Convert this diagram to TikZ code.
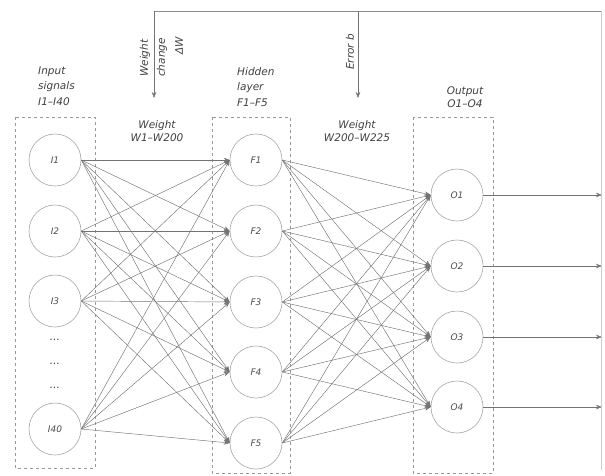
\documentclass[tikz,border=0pt]{standalone}
\usepackage{fontspec}
\setmainfont{DejaVu Sans}
\usetikzlibrary{arrows.meta}
\begin{document}
\begin{tikzpicture}[x=1pt,y=-1pt,
  neuron/.style={circle,draw=black!35,line width=0.6pt,minimum size=52pt,inner sep=0pt,font=\itshape\fontsize{9}{10}\selectfont,text=black!70},
  layerbox/.style={draw=black!40,dash pattern=on 3pt off 3pt,line width=0.5pt},
  conn/.style={draw=black!55,line width=0.45pt,-{Stealth[length=6pt,width=4.5pt]}},
  fb/.style={draw=black!45,line width=0.6pt},
  lbl/.style={font=\itshape\fontsize{10.5}{15.5}\selectfont,text=black!75,inner sep=0pt}
]
\useasboundingbox (0,0) rectangle (605,475);
% layer boxes
\draw[layerbox] (15,117) rectangle (95,468);
\draw[layerbox] (212,117) rectangle (290,473);
\draw[layerbox] (413,117) rectangle (493,473);
% inputs
\node[neuron] (i1) at (55,160) {I1};
\node[neuron] (i2) at (55,231) {I2};
\node[neuron] (i3) at (55,301) {I3};
\node[neuron] (i40) at (55,429) {I40};
\node[lbl] (d1) at (55,340) {...};
\node[lbl] (d2) at (55,364) {...};
\node[lbl] (d3) at (55,388) {...};
% hidden
\node[neuron] (f1) at (256,160) {F1};
\node[neuron] (f2) at (256,231) {F2};
\node[neuron] (f3) at (256,302) {F3};
\node[neuron] (f4) at (256,372) {F4};
\node[neuron] (f5) at (256,443) {F5};
% outputs
\node[neuron] (o1) at (457,195) {O1};
\node[neuron] (o2) at (457,266) {O2};
\node[neuron] (o3) at (457,337) {O3};
\node[neuron] (o4) at (457,407) {O4};
% connections
\foreach \a in {i1,i2,i3,i40}{
  \foreach \b in {f1,f2,f3,f4,f5}{
    \draw[conn] (\a.east) -- (\b.west);
  }
}
\foreach \a in {f1,f2,f3,f4,f5}{
  \foreach \b in {o1,o2,o3,o4}{
    \draw[conn] (\a.east) -- (\b.west);
  }
}
% output arrows
\coordinate (e1) at (602,195);
\coordinate (e2) at (602,266);
\coordinate (e3) at (602,337);
\coordinate (e4) at (602,407);
\draw[conn] (o1.east) -- (e1);
\draw[conn] (o2.east) -- (e2);
\draw[conn] (o3.east) -- (e3);
\draw[conn] (o4.east) -- (e4);
% feedback
\coordinate (fbw) at (154,11);
\coordinate (fbr) at (601,11);
\coordinate (fbb) at (601,470);
\coordinate (wt) at (154,98);
\coordinate (eb0) at (358,11);
\coordinate (ebt) at (358,98);
\draw[fb] (fbw) -- (fbr);
\draw[draw=black!20,line width=0.5pt] (fbr) -- (fbb);
\draw[conn] (fbw) -- (wt);
\draw[conn] (eb0) -- (ebt);
% labels
\node[lbl,rotate=90,anchor=west] (wc1) at (145,77) {Weight};
\node[lbl,rotate=90,anchor=west] (wc2) at (162,77) {change};
\node[lbl,rotate=90,anchor=west] (wc3) at (179,55) {ΔW};
\node[lbl,rotate=90,anchor=west] (eb) at (350,70) {Error b};
\node[lbl,align=left,anchor=west] (inl) at (38,86) {Input\\signals\\I1–I40};
\node[lbl,align=left,anchor=west] (hl) at (237,87) {Hidden\\layer\\F1–F5};
\node[lbl,align=center] (w1) at (157,131) {Weight\\[-3pt]W1–W200};
\node[lbl,align=center] (w2) at (357,131) {Weight\\[-3pt]W200–W225};
\node[lbl,align=center] (ol) at (465,97) {Output\\[-2pt]O1–O4};
\end{tikzpicture}
\end{document}
